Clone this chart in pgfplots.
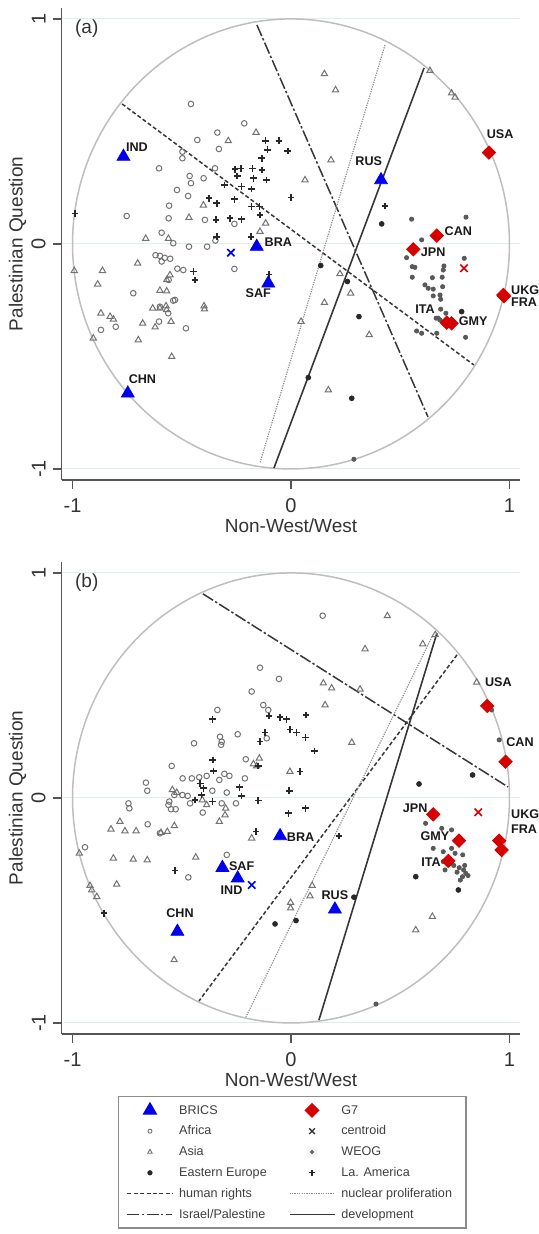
\documentclass[border=0pt]{standalone}
\usepackage{fontspec}
\setmainfont{Liberation Sans}
\usepackage{pgfplots}
\pgfplotsset{compat=1.18}

\definecolor{bricsblue}{RGB}{0,0,235}
\definecolor{gsevenred}{RGB}{215,0,0}
\definecolor{axisgray}{RGB}{85,85,85}
\definecolor{gridtint}{RGB}{226,237,237}
\definecolor{ringgray}{RGB}{190,190,190}
\definecolor{ptgray}{RGB}{115,115,115}
\definecolor{ptdark}{RGB}{40,40,40}
\definecolor{linedark}{RGB}{55,55,55}

\pgfplotsset{
  panel/.style={
    scale only axis, width=229.4pt, height=236.25pt,
    xmin=-1.05, xmax=1.05, ymin=-1.05, ymax=1.05,
    axis x line*=bottom, axis y line*=left,
    axis line style={axisgray, line width=0.75pt},
    xtick={-1,0,1}, ytick={-1,0,1},
    tick align=outside, major tick length=4.5pt,
    tick style={axisgray, line width=0.75pt},
    ymajorgrids, grid style={gridtint, line width=0.5pt},
    /pgf/number format/assume math mode=true,
    ticklabel style={font=\fontsize{10}{12}\selectfont, text=black!80},
    yticklabel style={rotate=90, anchor=south},
    xticklabel style={yshift=-1pt},
    xlabel={Non-West/West}, ylabel={Palestinian Question},
    label style={font=\fontsize{9.5}{11}\selectfont, text=black!80},
    xlabel style={at={(axis description cs:0.5,-0.097)}, anchor=center},
    ylabel style={at={(axis description cs:-0.096,0.5)}, anchor=center},
    clip=false,
  },
  africa/.style={only marks, mark=o, mark size=1.4pt, color=ptgray, line width=0.5pt, forget plot},
  asia/.style={only marks, mark=triangle, mark size=1.8pt, color=ptgray, line width=0.5pt, forget plot},
  latam/.style={only marks, mark=+, mark size=1.7pt, color=ptdark, line width=0.8pt, forget plot},
  eeur/.style={only marks, mark=*, mark size=1.2pt, color=ptdark, forget plot},
  weog/.style={only marks, mark=*, mark size=1.05pt, color=black!65, forget plot},
  brics/.style={only marks, mark=triangle*, mark size=3.7pt, color=bricsblue, forget plot},
  gseven/.style={only marks, mark=square*, mark options={rotate=45}, mark size=2.35pt, color=gsevenred, forget plot},
  centroid/.style={only marks, mark=x, mark size=2.6pt, line width=0.8pt, forget plot},
  hrline/.style={no marks, color=linedark, line width=0.75pt, dash pattern=on 2pt off 1.2pt},
  nucline/.style={no marks, color=black!45, line width=0.6pt, dash pattern=on 0.6pt off 0.6pt},
  ipline/.style={no marks, color=linedark, line width=0.75pt, dash pattern=on 6pt off 1.2pt on 1.2pt off 1.2pt},
  devline/.style={no marks, color=linedark, line width=0.8pt},
}
\tikzset{cname/.style={font=\fontsize{6.3}{6.5}\selectfont\bfseries, text=black!90, inner sep=0pt}}

\begin{document}
\begin{tikzpicture}
\useasboundingbox (0,0) rectangle (269.5pt,617pt);

% ---------- panel (a)
\begin{axis}[panel, at={(30.8pt,376.9pt)}, anchor=south west]
\draw[ringgray, line width=0.75pt] (axis cs:0,0) ellipse [x radius=1, y radius=1];
\node[font=\fontsize{9.5}{11}\selectfont, text=black!80] at (axis cs:-0.935,0.956) {(a)};

\addplot[hrline, forget plot] coordinates {(-0.773,0.622) (0.837,-0.538)};
\addplot[ipline, forget plot] coordinates {(-0.156,0.973) (0.627,-0.769)};
\addplot[nucline, forget plot] coordinates {(0.430,0.884) (-0.142,-0.973)};
\addplot[devline, forget plot] coordinates {(0.609,0.782) (-0.078,-0.996)};

\addplot[africa] coordinates {
(-0.458,0.622) (-0.214,0.536) (-0.337,0.495) (-0.429,0.462) (-0.330,0.422)
(-0.497,0.410) (-0.497,0.381) (-0.604,0.336) (-0.348,0.336) (-0.464,0.302)
(-0.400,0.292) (-0.458,0.270) (-0.522,0.240) (-0.471,0.213) (-0.558,0.170)
(-0.752,0.124) (-0.560,0.114) (-0.394,0.107) (-0.259,0.089) (-0.592,0.050)
(-0.539,0.003) (-0.467,-0.012) (-0.384,-0.012) (-0.346,0.015) (-0.620,-0.050)
(-0.600,-0.053) (-0.578,-0.062) (-0.553,-0.066) (-0.592,-0.078) (-0.259,-0.111)
(-0.722,-0.219) (-0.531,-0.249) (-0.600,-0.279) (-0.562,-0.308) (-0.604,-0.345)
(-0.481,-0.375) (-0.870,-0.382) (-0.802,-0.368) (-0.539,-0.252) (-0.560,-0.160)
(-0.520,-0.110) (-0.493,-0.116)
};
\addplot[asia] coordinates {
(-0.160,0.495) (-0.287,0.458) (0.064,0.284) (-0.401,0.172) (-0.467,0.117)
(-0.116,0.092) (-0.142,0.055) (-0.665,0.024) (-0.561,0.024) (-0.702,-0.086)
(-0.863,-0.119) (-0.992,-0.119) (-0.885,-0.179) (-0.569,-0.160) (-0.554,-0.138)
(-0.600,-0.207) (-0.569,-0.210) (-0.633,-0.286) (-0.572,-0.276) (-0.398,-0.276)
(-0.396,-0.290) (-0.870,-0.308) (-0.828,-0.323) (-0.813,-0.335) (-0.679,-0.353)
(-0.622,-0.370) (-0.549,-0.345) (-0.569,-0.293) (-0.905,-0.419) (-0.699,-0.427)
(-0.546,-0.501) (0.153,0.756) (0.204,0.684) (0.636,0.770) (0.735,0.670)
(0.751,0.652) (0.183,0.373) (0.224,-0.133) (0.273,-0.219) (0.153,-0.261)
(0.358,-0.404) (0.171,-0.649) (0.046,-0.345) (-0.600,-0.286)
};
\addplot[latam] coordinates {
(-0.116,0.458) (-0.055,0.458) (-0.108,0.418) (-0.015,0.413) (-0.134,0.381)
(-0.256,0.332) (-0.229,0.336) (-0.177,0.336) (-0.133,0.329) (-0.172,0.292)
(-0.113,0.284) (-0.305,0.262) (-0.226,0.255) (-0.180,0.244) (-0.375,0.203)
(-0.259,0.199) (0.000,0.206) (-0.340,0.181) (-0.180,0.166) (-0.145,0.166)
(-0.142,0.129) (-0.343,0.107) (-0.279,0.114) (-0.226,0.110) (-0.340,0.032)
(-0.183,0.032) (-0.101,-0.135) (-0.447,-0.123) (-0.439,-0.160) (-0.989,0.136)
(0.430,0.169) (-0.246,0.302)
};
\addplot[eeur] coordinates {
(0.415,0.089) (0.136,-0.096) (0.258,-0.167) (0.311,-0.323) (0.079,-0.594)
(0.278,-0.686) (0.781,-0.301)
};
\addplot[weog] coordinates {
(0.552,0.110) (0.801,0.119) (0.598,0.018) (0.529,-0.061) (0.793,-0.064)
(0.555,-0.101) (0.567,-0.104) (0.555,-0.148) (0.700,-0.098) (0.697,-0.116)
(0.647,-0.150) (0.692,-0.148) (0.613,-0.182) (0.628,-0.197) (0.651,-0.201)
(0.694,-0.190) (0.651,-0.231) (0.682,-0.227) (0.685,-0.246) (0.685,-0.290)
(0.709,-0.308) (0.674,-0.330) (0.575,-0.387) (0.598,-0.397) (0.667,-0.397)
(0.799,-0.415) (0.664,-0.330) (0.682,-0.338) (0.288,-0.957)
};
\addplot[brics] coordinates {(-0.767,0.388) (-0.157,-0.012) (-0.104,-0.175) (-0.747,-0.664) (0.412,0.284)};
\addplot[gseven] coordinates {(0.906,0.406) (0.667,0.037) (0.560,-0.024) (0.972,-0.227) (0.975,-0.232) (0.713,-0.350) (0.735,-0.353)};
\addplot[centroid, color=bricsblue] coordinates {(-0.275,-0.039)};
\addplot[centroid, color=gsevenred] coordinates {(0.792,-0.108)};

\node[cname] at (axis cs:-0.705,0.431) {IND};
\node[cname] at (axis cs:0.356,0.370) {RUS};
\node[cname] at (axis cs:0.957,0.487) {USA};
\node[cname] at (axis cs:0.766,0.055) {CAN};
\node[cname] at (axis cs:0.651,-0.037) {JPN};
\node[cname] at (axis cs:-0.058,0.007) {BRA};
\node[cname] at (axis cs:-0.150,-0.219) {SAF};
\node[cname] at (axis cs:-0.680,-0.601) {CHN};
\node[cname] at (axis cs:0.613,-0.290) {ITA};
\node[cname] at (axis cs:0.834,-0.345) {GMY};
\node[cname, align=left, anchor=west, font=\fontsize{6.3}{6.15}\selectfont\bfseries] at (axis cs:1.006,-0.231) {UKG\\FRA};
\end{axis}

% ---------- panel (b)
\begin{axis}[panel, at={(30.8pt,99.9pt)}, anchor=south west,
  legend columns=2,
  legend cell align=left,
  legend style={
    at={(axis description cs:0.503,-0.131)}, anchor=north,
    draw=black!45, line width=0.6pt, fill=white,
    inner xsep=4pt, inner ysep=2.5pt,
    font=\fontsize{6.3}{7}\selectfont,
    nodes={inner ysep=1.2pt, inner xsep=3pt, text height=5pt, text depth=1.3pt, text=black!75},
    row sep=1.7pt,
    /tikz/every even column/.append style={column sep=8pt},
  },
  legend image code/.code={\draw[mark repeat=2,mark phase=2,#1] plot coordinates {(0pt,0pt) (11.25pt,0pt) (22.5pt,0pt)};},
]
\draw[ringgray, line width=0.75pt] (axis cs:0,0) ellipse [x radius=1, y radius=1];
\node[font=\fontsize{9.5}{11}\selectfont, text=black!80] at (axis cs:-0.935,0.956) {(b)};

\addplot[ipline, forget plot] coordinates {(-0.403,0.907) (0.993,0.049)};
\addplot[hrline, forget plot] coordinates {(0.760,0.636) (-0.421,-0.902)};
\addplot[nucline, forget plot] coordinates {(0.645,0.716) (-0.206,-0.973)};
\addplot[devline, forget plot] coordinates {(0.668,0.733) (0.128,-0.987)};

\addplot[africa] coordinates {
(-0.142,0.579) (-0.055,0.529) (-0.180,0.473) (-0.127,0.413) (-0.104,0.391)
(-0.337,0.391) (-0.244,0.283) (-0.325,0.272) (-0.317,0.250) (-0.320,0.236)
(-0.444,0.243) (-0.111,0.265) (-0.207,0.172) (-0.546,0.142) (-0.496,0.087)
(-0.454,0.087) (-0.420,0.092) (-0.386,0.098) (-0.664,0.068) (-0.658,0.032)
(-0.305,0.107) (-0.282,0.098) (-0.328,0.080) (-0.211,0.087) (-0.360,0.032)
(-0.294,0.024) (-0.534,0.013) (-0.497,0.013) (-0.473,0.009) (-0.557,-0.016)
(-0.561,-0.031) (-0.549,-0.050) (-0.528,-0.050) (-0.462,-0.024) (-0.404,-0.065)
(-0.317,-0.024) (-0.252,-0.024) (-0.744,-0.024) (-0.740,-0.046) (-0.656,-0.117)
(-0.943,-0.219) (-0.294,-0.253) (-0.470,-0.353) (0.145,0.810) (-0.600,-0.157)
};
\addplot[asia] coordinates {
(0.148,0.510) (0.156,0.413) (-0.145,0.176) (-0.172,0.151) (-0.157,0.142)
(-0.005,0.117) (-0.543,0.036) (-0.523,0.024) (-0.406,-0.009) (-0.386,-0.031)
(-0.299,-0.046) (-0.302,-0.076) (-0.328,-0.105) (-0.783,-0.105) (-0.824,-0.139)
(-0.760,-0.147) (-0.709,-0.147) (-0.595,-0.154) (-0.566,-0.150) (-0.534,-0.124)
(-0.180,-0.179) (-0.969,-0.246) (-0.813,-0.268) (-0.722,-0.273) (-0.658,-0.276)
(-0.436,-0.264) (-0.798,-0.384) (-0.920,-0.390) (-0.912,-0.409) (-0.889,-0.439)
(0.097,-0.390) (-0.535,-0.720) (0.087,-0.436) (-0.002,-0.465) (-0.002,-0.490)
(0.647,-0.527) (0.571,-0.587) (0.441,0.809) (0.339,0.662) (0.603,0.684)
(0.186,0.488) (0.316,0.483) (0.278,0.246) (0.850,0.514) (0.660,0.725)
};
\addplot[latam] coordinates {
(-0.360,0.350) (-0.101,0.364) (-0.050,0.359) (-0.020,0.350) (0.069,0.369)
(-0.119,0.290) (-0.142,0.250) (-0.005,0.305) (0.026,0.290) (0.067,0.268)
(0.107,0.209) (-0.358,0.169) (-0.355,0.120) (-0.150,0.142) (0.041,0.117)
(-0.416,0.065) (-0.401,0.043) (-0.409,0.013) (-0.439,-0.009) (-0.236,0.048)
(-0.226,0.009) (-0.360,-0.016) (-0.150,-0.012) (-0.008,0.032) (-0.012,-0.068)
(0.067,-0.046) (-0.160,-0.150) (-0.531,-0.323) (-0.856,-0.512) (0.220,-0.169)
};
\addplot[eeur] coordinates {
(-0.073,-0.560) (0.023,-0.545) (0.288,-0.441) (0.586,0.062) (0.831,0.102)
(0.571,-0.350) (0.766,-0.409)
};
\addplot[weog] coordinates {
(0.616,-0.113) (0.690,-0.135) (0.735,-0.142) (0.651,-0.224) (0.697,-0.239)
(0.735,-0.224) (0.751,-0.246) (0.786,-0.253) (0.697,-0.283) (0.735,-0.290)
(0.705,-0.320) (0.770,-0.310) (0.790,-0.320) (0.800,-0.335) (0.785,-0.350)
(0.775,-0.365) (0.810,-0.345) (0.760,-0.330) (0.795,-0.300) (0.745,-0.300)
(0.389,-0.916) (0.953,0.258) (0.918,0.391)
};
\addplot[brics] coordinates {(-0.050,-0.169) (-0.314,-0.310) (-0.244,-0.357) (-0.520,-0.594) (0.201,-0.495)};
\addplot[gseven] coordinates {(0.898,0.409) (0.982,0.161) (0.651,-0.073) (0.769,-0.190) (0.720,-0.280) (0.953,-0.190) (0.964,-0.231)};
\addplot[centroid, color=bricsblue] coordinates {(-0.180,-0.387)};
\addplot[centroid, color=gsevenred] coordinates {(0.857,-0.064)};

\node[cname] at (axis cs:0.949,0.514) {USA};
\node[cname] at (axis cs:1.048,0.246) {CAN};
\node[cname] at (axis cs:0.568,-0.046) {JPN};
\node[cname] at (axis cs:0.659,-0.172) {GMY};
\node[cname] at (axis cs:0.641,-0.287) {ITA};
\node[cname] at (axis cs:0.044,-0.175) {BRA};
\node[cname] at (axis cs:-0.226,-0.305) {SAF};
\node[cname] at (axis cs:-0.272,-0.412) {IND};
\node[cname] at (axis cs:-0.508,-0.513) {CHN};
\node[cname] at (axis cs:0.201,-0.431) {RUS};
\node[cname, align=left, anchor=west, font=\fontsize{6.3}{7.5}\selectfont\bfseries] at (axis cs:1.006,-0.106) {UKG\\FRA};

% legend entries
\addlegendimage{only marks, mark=triangle*, mark size=3.7pt, color=bricsblue}
\addlegendentry{BRICS}
\addlegendimage{only marks, mark=square*, mark options={rotate=45}, mark size=2.35pt, color=gsevenred}
\addlegendentry{G7}
\addlegendimage{only marks, mark=o, mark size=1.0pt, color=ptgray, line width=0.45pt}
\addlegendentry{Africa}
\addlegendimage{only marks, mark=x, mark size=2pt, color=black!80, line width=0.65pt}
\addlegendentry{centroid}
\addlegendimage{only marks, mark=triangle, mark size=1.3pt, color=ptgray, line width=0.45pt}
\addlegendentry{Asia}
\addlegendimage{only marks, mark=*, mark size=0.75pt, color=black!60}
\addlegendentry{WEOG}
\addlegendimage{only marks, mark=*, mark size=1pt, color=ptdark}
\addlegendentry{Eastern Europe}
\addlegendimage{only marks, mark=+, mark size=1.4pt, color=ptdark, line width=0.7pt}
\addlegendentry{La. America}
\addlegendimage{hrline}
\addlegendentry{human rights}
\addlegendimage{nucline}
\addlegendentry{nuclear proliferation}
\addlegendimage{ipline}
\addlegendentry{Israel/Palestine}
\addlegendimage{devline}
\addlegendentry{development}
\end{axis}
\end{tikzpicture}
\end{document}
